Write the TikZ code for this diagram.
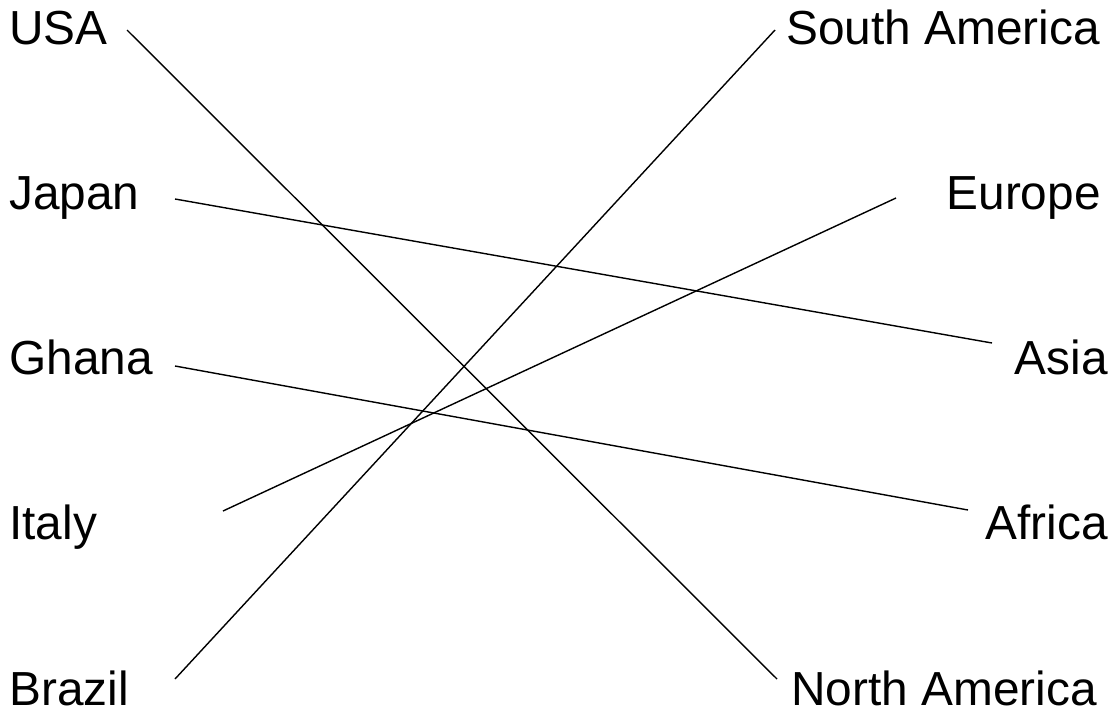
\documentclass[tikz,border=0pt]{standalone}
\usepackage{fontspec}
\setmainfont{Liberation Sans}
\begin{document}
\begin{tikzpicture}[x=0.02cm,y=-0.02cm,
    word/.style={inner sep=0pt,font=\fontsize{27.2}{32}\selectfont},
    link/.style={line width=0.8pt}]
  \useasboundingbox (0,0) rectangle (1118,714);
  % countries
  \node[word,anchor=base west] (usa) at (9,44) {USA};
  \node[word,anchor=base west] (japan) at (9,209) {Japan};
  \node[word,anchor=base west] (ghana) at (9,374) {Ghana};
  \node[word,anchor=base west] (italy) at (9,539) {Italy};
  \node[word,anchor=base west] (brazil) at (9,705) {Brazil};
  % continents
  \node[word,anchor=base east] (samerica) at (1100,44) {South America};
  \node[word,anchor=base east] (europe) at (1101,209) {Europe};
  \node[word,anchor=base east] (asia) at (1108,374) {Asia};
  \node[word,anchor=base east] (africa) at (1108,539) {Africa};
  \node[word,anchor=base east] (namerica) at (1097,705) {North America};
  % line ends
  \coordinate (usa-r) at (127,30);
  \coordinate (japan-r) at (175,199);
  \coordinate (ghana-r) at (175,366);
  \coordinate (italy-r) at (223,511);
  \coordinate (brazil-r) at (175,679);
  \coordinate (samerica-l) at (775,30);
  \coordinate (europe-l) at (896,198);
  \coordinate (asia-l) at (992,343);
  \coordinate (africa-l) at (968,510);
  \coordinate (namerica-l) at (777,679);
  \draw[link] (usa-r) -- (namerica-l);
  \draw[link] (japan-r) -- (asia-l);
  \draw[link] (ghana-r) -- (africa-l);
  \draw[link] (italy-r) -- (europe-l);
  \draw[link] (brazil-r) -- (samerica-l);
\end{tikzpicture}
\end{document}
